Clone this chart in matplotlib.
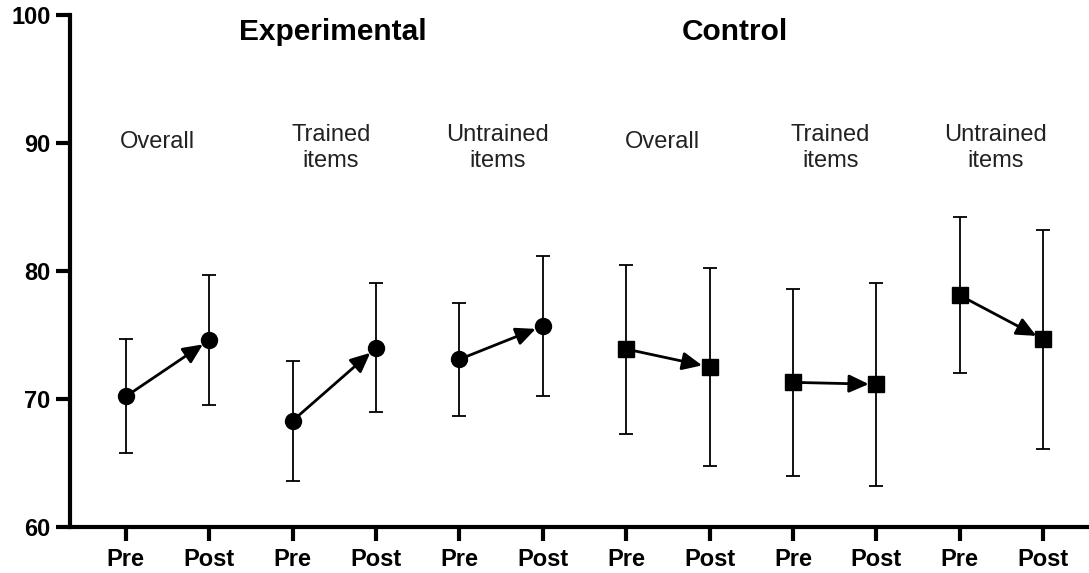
import matplotlib
matplotlib.use("Agg")
import matplotlib.pyplot as plt

plt.rcParams['font.family'] = ['Liberation Sans', 'DejaVu Sans']

tick_labels = ["Pre", "Post"] * 6
group_titles = ["Experimental", "Control"]
subgroup_labels = ["Overall", "Trained\nitems", "Untrained\nitems",
                   "Overall", "Trained\nitems", "Untrained\nitems"]

# Experimental: Overall, Trained, Untrained (Pre, Post)
exp_means = [70.2, 74.6, 68.3, 74.0, 73.1, 75.7]
exp_err = [4.45, 5.05, 4.7, 5.05, 4.4, 5.5]
# Control: Overall, Trained, Untrained (Pre, Post)
ctrl_means = [73.9, 72.5, 71.3, 71.15, 78.1, 74.65]
ctrl_err = [6.6, 7.7, 7.3, 7.95, 6.1, 8.55]

W, H = 1089, 573
fig = plt.figure(figsize=(W / 100, H / 100), dpi=100)
ax = fig.add_axes([70 / W, 1 - 527 / H, 1 - 70 / W, (527 - 15) / H])

x = list(range(1, 13))
means = exp_means + ctrl_means
errs = exp_err + ctrl_err
markers = ['o'] * 6 + ['s'] * 6

for xi, m, e, mk in zip(x, means, errs, markers):
    ax.errorbar(xi, m, yerr=e, fmt=mk, color='black', ecolor='black',
                elinewidth=1.3, capsize=5, capthick=1.3,
                markersize=11.5 if mk == 'o' else 11, zorder=3)

for i in range(0, 12, 2):
    ax.annotate("", xy=(x[i + 1], means[i + 1]), xytext=(x[i], means[i]),
                arrowprops=dict(arrowstyle='-|>,head_length=0.7,head_width=0.32',
                                color='black', lw=2, mutation_scale=17,
                                shrinkA=0, shrinkB=5.5), zorder=2)

ax.set_xlim(0.33, 12.55)
ax.set_ylim(60, 100)
ax.set_yticks([60, 70, 80, 90, 100])
ax.set_xticks(x)
ax.set_xticklabels(tick_labels)
for lbl in ax.get_xticklabels() + ax.get_yticklabels():
    lbl.set_fontweight('bold')
    lbl.set_fontsize(17)

ax.spines['top'].set_visible(False)
ax.spines['right'].set_visible(False)
ax.spines['left'].set_linewidth(3)
ax.spines['bottom'].set_linewidth(3)
ax.tick_params(axis='both', direction='out', length=10, width=3, pad=4)
ax.tick_params(axis='x', pad=5)

# Group titles
ax.text(3.48, 98.7, group_titles[0], ha='center', va='center',
        fontsize=21.5, fontweight='bold')
ax.text(8.30, 98.7, group_titles[1], ha='center', va='center',
        fontsize=21.5, fontweight='bold')

sub_x = [1.38, 3.46, 5.46, 7.44, 9.45, 11.43]
for sx, lab in zip(sub_x, subgroup_labels):
    yy = 90.1 if '\n' not in lab else 89.6
    ax.text(sx, yy, lab, ha='center', va='center', fontsize=17,
            linespacing=1.2, color='#222222')

fig.savefig("out.png", dpi=100)
